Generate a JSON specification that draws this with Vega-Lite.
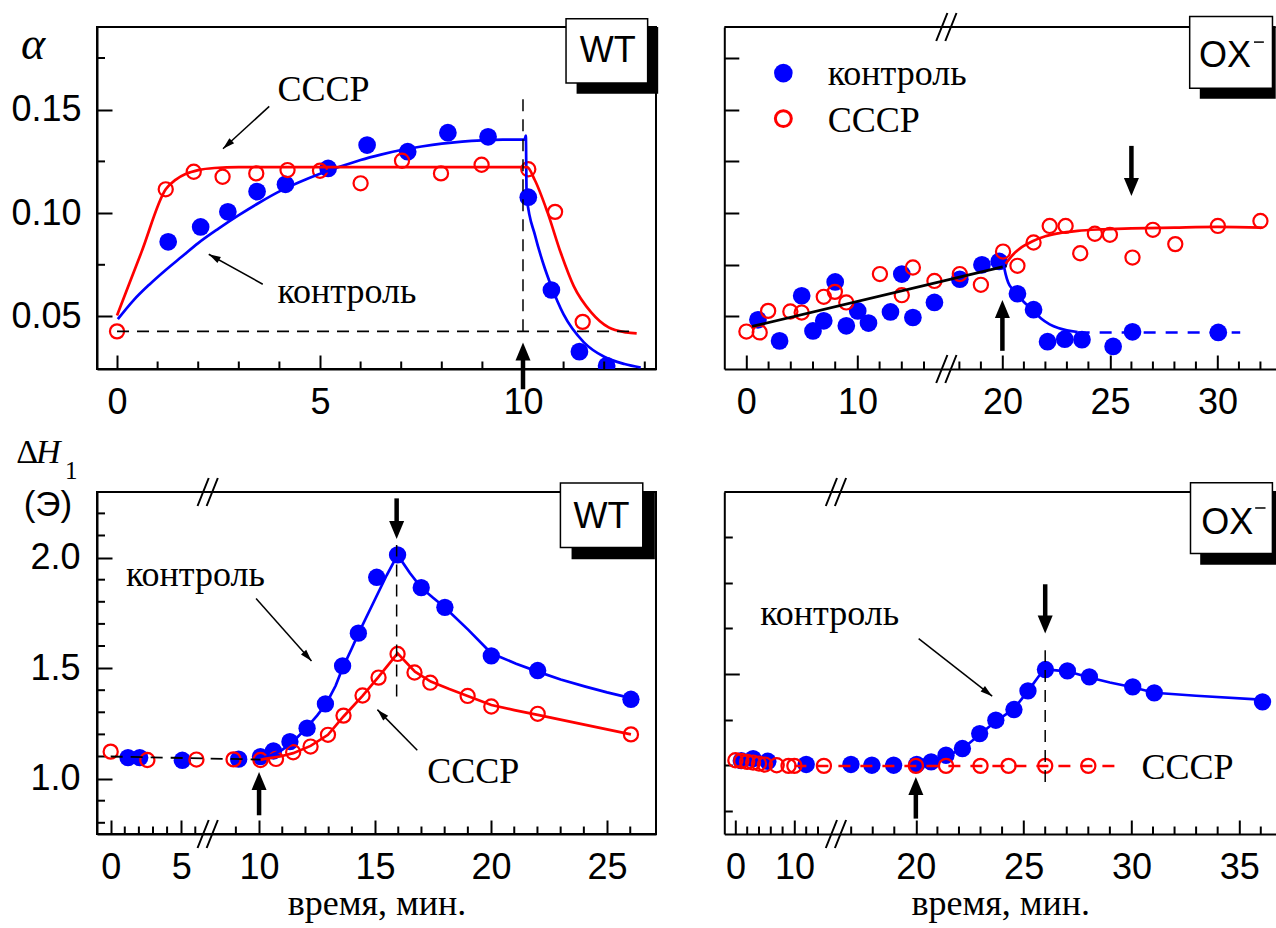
{
"$schema": "https://vega.github.io/schema/vega-lite/v6.json",
"background": "white",
"padding": {"left": 9, "top": 9, "right": 0, "bottom": 0},
"config": {
  "view": {"stroke": null},
  "axis": {"grid": false, "domainColor": "black", "domainWidth": 2, "tickColor": "black", "tickWidth": 2, "labelFont": "Liberation Sans", "labelFontSize": 36, "labelColor": "black", "labelFlush": false, "labelOverlap": false, "titleFont": "Liberation Serif", "titleFontSize": 36, "titleFontWeight": "normal", "titleColor": "black"}
},
"datasets": {
  "one": [{}],
  "tl_xminor": [{"t":1},{"t":2},{"t":3},{"t":4},{"t":6},{"t":7},{"t":8},{"t":9},{"t":11},{"t":12},{"t":13}],
  "tl_yminor": [{"v":0.075},{"v":0.125},{"v":0.175}],
  "tr_xminor": [{"t":2},{"t":4},{"t":6},{"t":8},{"t":12},{"t":14},{"t":16},{"t":18},{"t":19},{"t":21},{"t":22},{"t":23},{"t":24},{"t":26},{"t":27},{"t":28},{"t":29},{"t":31},{"t":32}],
  "bl_xminor": [{"t":1},{"t":2},{"t":3},{"t":4},{"t":6},{"t":9},{"t":11},{"t":12},{"t":13},{"t":14},{"t":16},{"t":17},{"t":18},{"t":19},{"t":21},{"t":22},{"t":23},{"t":24},{"t":26}],
  "bl_yminor": [{"v":0.8},{"v":0.9},{"v":1.1},{"v":1.2},{"v":1.3},{"v":1.4},{"v":1.6},{"v":1.7},{"v":1.8},{"v":1.9},{"v":2.1},{"v":2.2}],
  "br_xminor": [{"t":2},{"t":4},{"t":6},{"t":8},{"t":12},{"t":14},{"t":17},{"t":18},{"t":19},{"t":21},{"t":22},{"t":23},{"t":24},{"t":26},{"t":27},{"t":28},{"t":29},{"t":31},{"t":32},{"t":33},{"t":34},{"t":36}],
  "tl_ctrl": [{"t":1.26,"v":0.0861},{"t":2.06,"v":0.0933},{"t":2.73,"v":0.1006},{"t":3.45,"v":0.1104},{"t":4.15,"v":0.1139},{"t":5.2,"v":0.1216},{"t":6.16,"v":0.1329},{"t":7.16,"v":0.1297},{"t":8.15,"v":0.1389},{"t":9.14,"v":0.1369},{"t":10.13,"v":0.1077},{"t":10.7,"v":0.0628},{"t":11.39,"v":0.033},{"t":12.06,"v":0.0262}],
  "tl_cccp": [{"t":0,"v":0.0428},{"t":1.2,"v":0.1115},{"t":1.89,"v":0.12},{"t":2.6,"v":0.1176},{"t":3.43,"v":0.1192},{"t":4.2,"v":0.1208},{"t":5.0,"v":0.1205},{"t":6.0,"v":0.1144},{"t":7.02,"v":0.1253},{"t":7.98,"v":0.1192},{"t":8.98,"v":0.1234},{"t":10.13,"v":0.1212},{"t":10.79,"v":0.1006},{"t":11.47,"v":0.0474}],
  "tl_ctrl_fit": [{"t":0.02,"v":0.0487},{"t":0.4,"v":0.0577},{"t":0.8,"v":0.0655},{"t":1.2,"v":0.0725},{"t":1.6,"v":0.079},{"t":2.0,"v":0.0855},{"t":2.5,"v":0.0925},{"t":3.0,"v":0.099},{"t":3.5,"v":0.105},{"t":4.0,"v":0.1105},{"t":4.5,"v":0.115},{"t":5.0,"v":0.119},{"t":5.5,"v":0.1225},{"t":6.0,"v":0.1257},{"t":6.5,"v":0.1283},{"t":7.0,"v":0.1305},{"t":7.5,"v":0.1322},{"t":8.0,"v":0.1336},{"t":8.5,"v":0.1346},{"t":9.0,"v":0.1352},{"t":9.5,"v":0.1355},{"t":10.04,"v":0.1355},{"t":10.07,"v":0.1375},{"t":10.09,"v":0.108},{"t":10.3,"v":0.089},{"t":10.5,"v":0.0755},{"t":10.7,"v":0.0645},{"t":11.0,"v":0.051},{"t":11.5,"v":0.0375},{"t":12.0,"v":0.0305},{"t":12.5,"v":0.027},{"t":12.9,"v":0.0253}],
  "tl_cccp_fit": [{"t":0,"v":0.0505},{"t":0.6,"v":0.081},{"t":1.2,"v":0.1115},{"t":1.45,"v":0.1162},{"t":1.7,"v":0.119},{"t":2.0,"v":0.1208},{"t":2.4,"v":0.1218},{"t":3.0,"v":0.1222},{"t":10.1,"v":0.1222},{"t":10.29,"v":0.116},{"t":10.61,"v":0.1},{"t":10.93,"v":0.0808},{"t":11.25,"v":0.0647},{"t":11.68,"v":0.052},{"t":12.11,"v":0.0447},{"t":12.54,"v":0.0423},{"t":12.8,"v":0.0418}],
  "tr_ctrl": [{"t":1.04,"v":0.0484},{"t":2.99,"v":0.0382},{"t":4.98,"v":0.06},{"t":6.0,"v":0.043},{"t":6.97,"v":0.0479},{"t":8.0,"v":0.0667},{"t":9.0,"v":0.0455},{"t":10.03,"v":0.0527},{"t":11.0,"v":0.0468},{"t":12.98,"v":0.0522},{"t":14.0,"v":0.0705},{"t":15.0,"v":0.0495},{"t":16.94,"v":0.0568},{"t":18.02,"v":0.068},{"t":19.05,"v":0.075},{"t":19.85,"v":0.0766},{"t":20.7,"v":0.061},{"t":21.45,"v":0.0533},{"t":22.1,"v":0.0378},{"t":22.9,"v":0.039},{"t":23.7,"v":0.0388},{"t":25.15,"v":0.0355},{"t":26.05,"v":0.0426},{"t":30.04,"v":0.0423}],
  "tr_cccp": [{"t":0,"v":0.0427},{"t":1.2,"v":0.0423},{"t":1.96,"v":0.0527},{"t":3.96,"v":0.0524},{"t":4.98,"v":0.0519},{"t":6.97,"v":0.0595},{"t":7.97,"v":0.0619},{"t":9.0,"v":0.0568},{"t":12.03,"v":0.0705},{"t":14.0,"v":0.0603},{"t":15.0,"v":0.0737},{"t":16.94,"v":0.0672},{"t":18.02,"v":0.0705},{"t":19.0,"v":0.0653},{"t":20.03,"v":0.0814},{"t":20.7,"v":0.0745},{"t":21.45,"v":0.0858},{"t":22.2,"v":0.0938},{"t":22.94,"v":0.0938},{"t":23.62,"v":0.0806},{"t":24.3,"v":0.09},{"t":25.0,"v":0.0895},{"t":26.05,"v":0.0785},{"t":27.0,"v":0.0919},{"t":28.04,"v":0.085},{"t":30.02,"v":0.0938},{"t":32.0,"v":0.0962}],
  "tr_black": [{"t":0.51,"v":0.0452},{"t":20.2,"v":0.0745}],
  "tr_ctrl_fit": [{"t":20.05,"v":0.0755},{"t":20.15,"v":0.0705},{"t":20.27,"v":0.0664},{"t":20.5,"v":0.0628},{"t":20.7,"v":0.0605},{"t":21.0,"v":0.057},{"t":21.45,"v":0.0528},{"t":21.8,"v":0.049},{"t":22.2,"v":0.0462},{"t":22.6,"v":0.0444},{"t":23.0,"v":0.0433},{"t":23.5,"v":0.0425}],
  "tr_cccp_fit": [{"t":20.15,"v":0.0755},{"t":20.5,"v":0.08},{"t":20.9,"v":0.0835},{"t":21.4,"v":0.0864},{"t":22.0,"v":0.0888},{"t":22.6,"v":0.0902},{"t":23.5,"v":0.0914},{"t":24.5,"v":0.0921},{"t":26.0,"v":0.0926},{"t":28.0,"v":0.093},{"t":30.0,"v":0.0933},{"t":32.1,"v":0.093}],
  "bl_ctrl": [{"t":1.23,"v":1.095},{"t":2.06,"v":1.095},{"t":5.08,"v":1.083},{"t":9.12,"v":1.088},{"t":10.06,"v":1.0995},{"t":10.62,"v":1.125},{"t":11.33,"v":1.167},{"t":12.07,"v":1.228},{"t":12.86,"v":1.338},{"t":13.6,"v":1.51},{"t":14.28,"v":1.658},{"t":15.07,"v":1.911},{"t":15.97,"v":2.012},{"t":16.99,"v":1.864},{"t":18.01,"v":1.775},{"t":20.01,"v":1.555},{"t":22.01,"v":1.489},{"t":26.03,"v":1.359}],
  "bl_cccp": [{"t":0,"v":1.122},{"t":2.6,"v":1.084},{"t":6.08,"v":1.086},{"t":8.9,"v":1.087},{"t":10.06,"v":1.084},{"t":10.73,"v":1.089},{"t":11.47,"v":1.119},{"t":12.22,"v":1.145},{"t":12.97,"v":1.198},{"t":13.64,"v":1.285},{"t":14.46,"v":1.376},{"t":15.15,"v":1.457},{"t":15.97,"v":1.564},{"t":16.7,"v":1.48},{"t":17.38,"v":1.434},{"t":18.99,"v":1.374},{"t":20.01,"v":1.326},{"t":22.01,"v":1.293},{"t":26.03,"v":1.2}],
  "bl_ctrl_fit": [{"t":10.06,"v":1.09},{"t":10.5,"v":1.105},{"t":11.0,"v":1.13},{"t":11.5,"v":1.17},{"t":12.0,"v":1.225},{"t":12.5,"v":1.285},{"t":12.9,"v":1.34},{"t":13.3,"v":1.42},{"t":13.6,"v":1.5},{"t":14.0,"v":1.59},{"t":14.3,"v":1.66},{"t":14.9,"v":1.79},{"t":15.5,"v":1.92},{"t":15.97,"v":2.012},{"t":16.5,"v":1.93},{"t":16.99,"v":1.864},{"t":17.5,"v":1.818},{"t":18.0,"v":1.775},{"t":19.02,"v":1.673},{"t":20.01,"v":1.567},{"t":21.08,"v":1.52},{"t":22.01,"v":1.484},{"t":23.0,"v":1.448},{"t":24.07,"v":1.416},{"t":25.0,"v":1.39},{"t":26.03,"v":1.364}],
  "bl_cccp_fit": [{"t":10.06,"v":1.085},{"t":10.24,"v":1.089},{"t":10.9,"v":1.1},{"t":11.47,"v":1.115},{"t":12.22,"v":1.148},{"t":12.97,"v":1.198},{"t":13.64,"v":1.281},{"t":14.46,"v":1.374},{"t":15.15,"v":1.46},{"t":15.97,"v":1.567},{"t":16.72,"v":1.484},{"t":17.4,"v":1.439},{"t":18.2,"v":1.405},{"t":18.99,"v":1.374},{"t":20.01,"v":1.333},{"t":21.0,"v":1.31},{"t":22.01,"v":1.288},{"t":24.07,"v":1.243},{"t":26.03,"v":1.2}],
  "br_ctrl": [{"t":1,"v":1.121},{"t":3,"v":1.13},{"t":5.5,"v":1.118},{"t":12,"v":1.104},{"t":16.99,"v":1.104},{"t":17.96,"v":1.1007},{"t":18.97,"v":1.1007},{"t":20.04,"v":1.104},{"t":20.71,"v":1.1153},{"t":21.4,"v":1.1445},{"t":22.16,"v":1.1738},{"t":22.96,"v":1.2394},{"t":23.71,"v":1.2977},{"t":24.55,"v":1.3446},{"t":25.2,"v":1.426},{"t":26.01,"v":1.5197},{"t":27.03,"v":1.5137},{"t":28.05,"v":1.4873},{"t":30.06,"v":1.4435},{"t":31.06,"v":1.4173},{"t":36.08,"v":1.3778}],
  "br_cccp": [{"t":0,"v":1.1226},{"t":1,"v":1.1197},{"t":2,"v":1.1153},{"t":3,"v":1.1124},{"t":4,"v":1.108},{"t":5,"v":1.1036},{"t":7,"v":1.1007},{"t":9,"v":1.0978},{"t":10,"v":1.0978},{"t":15,"v":1.0978},{"t":20,"v":1.0978},{"t":21.4,"v":1.0978},{"t":23,"v":1.0978},{"t":24.3,"v":1.0978},{"t":26,"v":1.0978},{"t":28,"v":1.0978}],
  "br_ctrl_fit": [{"t":20.04,"v":1.101},{"t":20.71,"v":1.113},{"t":21.4,"v":1.14},{"t":22.16,"v":1.172},{"t":22.96,"v":1.235},{"t":23.71,"v":1.293},{"t":24.55,"v":1.348},{"t":25.2,"v":1.425},{"t":25.7,"v":1.49},{"t":26.01,"v":1.52},{"t":27.03,"v":1.512},{"t":28.05,"v":1.485},{"t":29.0,"v":1.463},{"t":30.06,"v":1.442},{"t":31.06,"v":1.418},{"t":33.0,"v":1.405},{"t":36.0,"v":1.388}]
},
"columns": 2,
"spacing": {"row": 123, "column": 68.3},
"bounds": "flush",
"concat": [
{
 "width": 559, "height": 342,
 "view": {"stroke": "black", "strokeWidth": 2},
 "layer": [
  {"data": {"name": "tl_ctrl"}, "mark": {"type": "point", "shape": "circle", "filled": true, "color": "#0000ff", "size": 314, "opacity": 1, "clip": true},
   "encoding": {
    "x": {"field": "t", "type": "quantitative", "title": null, "scale": {"domain": [-0.493, 13.276], "nice": false, "zero": false},
          "axis": {"title": null, "labelOverlap": false, "labelFlush": false, "values": [0,5,10], "format": "d", "tickSize": -14, "labelPadding": 30.4}},
    "y": {"field": "v", "type": "quantitative", "title": null, "scale": {"domain": [0.0246, 0.19], "nice": false, "zero": false},
          "axis": {"title": null, "labelOverlap": false, "values": [0.05,0.1,0.15], "format": ".2f", "tickSize": -15, "labelPadding": 31}}
   }},
  {"data": {"name": "tl_xminor"}, "mark": {"type": "rule", "color": "black", "strokeWidth": 2}, "encoding": {"x": {"field": "t", "type": "quantitative", "title": null}, "y": {"datum": 0.0246, "title": null}, "y2": {"datum": 0.02823}}},
  {"data": {"name": "tl_yminor"}, "mark": {"type": "rule", "color": "black", "strokeWidth": 2}, "encoding": {"y": {"field": "v", "type": "quantitative", "title": null}, "x": {"datum": -0.493, "title": null}, "x2": {"datum": -0.296}}},
  {"data": {"name": "tl_cccp"}, "mark": {"type": "point", "shape": "circle", "filled": false, "color": "#ff0000", "strokeWidth": 2.2, "size": 200, "opacity": 1}, "encoding": {"x": {"field": "t", "type": "quantitative", "title": null}, "y": {"field": "v", "type": "quantitative", "title": null}}},
  {"data": {"name": "tl_ctrl_fit"}, "mark": {"type": "line", "color": "#0000ff", "strokeWidth": 2.7, "interpolate": "monotone"}, "encoding": {"x": {"field": "t", "type": "quantitative", "title": null}, "y": {"field": "v", "type": "quantitative", "title": null}}},
  {"data": {"name": "tl_cccp_fit"}, "mark": {"type": "line", "color": "#ff0000", "strokeWidth": 2.7, "interpolate": "monotone"}, "encoding": {"x": {"field": "t", "type": "quantitative", "title": null}, "y": {"field": "v", "type": "quantitative", "title": null}}},
  {"data": {"name": "one"}, "mark": {"type": "rule", "color": "black", "strokeWidth": 1.8, "strokeDash": [12, 8]}, "encoding": {"x": {"datum": 0, "title": null}, "x2": {"datum": 12.8}, "y": {"datum": 0.0428, "title": null}}},
  {"data": {"name": "one"}, "mark": {"type": "rule", "color": "black", "strokeWidth": 1.5, "strokeDash": [12, 8]}, "encoding": {"x": {"datum": 10, "title": null}, "y": {"datum": 0.0428, "title": null}, "y2": {"datum": 0.156}}},
  {"data": {"name": "one"}, "mark": {"type": "rule", "color": "black", "strokeWidth": 4.5}, "encoding": {"x": {"datum": 10, "title": null}, "y": {"datum": 0.0148, "title": null}, "y2": {"datum": 0.034}}},
  {"data": {"name": "one"}, "mark": {"type": "point", "shape": "M0,0L1,2.4L-1,2.4Z", "filled": true, "color": "black", "size": 225, "opacity": 1, "strokeWidth": 0}, "encoding": {"x": {"datum": 10, "title": null}, "y": {"datum": 0.0374, "title": null}}},
  {"data": {"name": "one"}, "mark": {"type": "text", "font": "Liberation Serif", "fontSize": 36, "align": "left", "baseline": "alphabetic", "color": "black"}, "encoding": {"x": {"datum": 3.95, "title": null}, "y": {"datum": 0.154, "title": null}, "text": {"value": "CCCP"}}},
  {"data": {"name": "one"}, "mark": {"type": "text", "font": "Liberation Serif", "fontSize": 36, "align": "left", "baseline": "alphabetic", "color": "black"}, "encoding": {"x": {"datum": 3.95, "title": null}, "y": {"datum": 0.0565, "title": null}, "text": {"value": "контроль"}}},
  {"data": {"name": "one"}, "mark": {"type": "rule", "color": "black", "strokeWidth": 1.5}, "encoding": {"x": {"datum": 3.75, "title": null}, "y": {"datum": 0.1516, "title": null}, "x2": {"datum": 2.61}, "y2": {"datum": 0.1311}}},
  {"data": {"name": "one"}, "mark": {"type": "point", "shape": "M0,0L1,3.4L-1,3.4Z", "filled": true, "color": "black", "size": 49, "opacity": 1, "strokeWidth": 0, "angle": 227.6}, "encoding": {"x": {"datum": 2.61, "title": null}, "y": {"datum": 0.1311, "title": null}}},
  {"data": {"name": "one"}, "mark": {"type": "rule", "color": "black", "strokeWidth": 1.5}, "encoding": {"x": {"datum": 3.59, "title": null}, "y": {"datum": 0.0656, "title": null}, "x2": {"datum": 2.26}, "y2": {"datum": 0.0801}}},
  {"data": {"name": "one"}, "mark": {"type": "point", "shape": "M0,0L1,3.4L-1,3.4Z", "filled": true, "color": "black", "size": 49, "opacity": 1, "strokeWidth": 0, "angle": 299.2}, "encoding": {"x": {"datum": 2.26, "title": null}, "y": {"datum": 0.0801, "title": null}}},
  {"data": {"name": "one"}, "mark": {"type": "text", "font": "Liberation Serif", "fontStyle": "italic", "fontSize": 46, "align": "center", "baseline": "alphabetic", "color": "black"}, "encoding": {"x": {"datum": -2.07, "title": null}, "y": {"datum": 0.1747, "title": null}, "text": {"value": "α"}}},
  {"data": {"name": "one"}, "mark": {"type": "rect", "fill": "black"}, "encoding": {"x": {"datum": 11.32, "title": null}, "x2": {"datum": 13.33}, "y": {"datum": 0.1577, "title": null}, "y2": {"datum": 0.19}}},
  {"data": {"name": "one"}, "mark": {"type": "rect", "fill": "white", "stroke": "black", "strokeWidth": 1.5}, "encoding": {"x": {"datum": 11.06, "title": null}, "x2": {"datum": 13.07}, "y": {"datum": 0.1629, "title": null}, "y2": {"datum": 0.194}}},
  {"data": {"name": "one"}, "mark": {"type": "text", "font": "Liberation Sans", "fontSize": 36, "align": "center", "baseline": "alphabetic", "color": "black"}, "encoding": {"x": {"datum": 12.09, "title": null}, "y": {"datum": 0.173, "title": null}, "text": {"value": "WT"}}}
 ]
},
{
 "width": 551.4, "height": 342,
 "layer": [
  {"data": {"name": "tr_ctrl"}, "mark": {"type": "point", "shape": "circle", "filled": true, "color": "#0000ff", "size": 314, "opacity": 1},
   "encoding": {
    "x": {"field": "t", "type": "quantitative", "title": null, "scale": {"domain": [-1.99, 17.0, 17.41, 32.71], "range": [0, 210.8, 222.4, 551.4], "nice": false, "zero": false},
          "axis": {"title": null, "labelOverlap": false, "labelFlush": false, "values": [0,10,20,25,30], "format": "d", "tickSize": -14, "labelPadding": 30.4}},
    "y": {"field": "v", "type": "quantitative", "title": null, "scale": {"domain": [0.0246, 0.19], "nice": false, "zero": false},
          "axis": {"title": null, "values": [0.05,0.075,0.1,0.125,0.15,0.175], "labels": false, "tickSize": -14.5}}
   }},
  {"data": {"name": "tr_xminor"}, "mark": {"type": "rule", "color": "black", "strokeWidth": 2}, "encoding": {"x": {"field": "t", "type": "quantitative", "title": null}, "y": {"datum": 0.0246, "title": null}, "y2": {"datum": 0.02823}}},
  {"data": {"name": "tr_cccp"}, "mark": {"type": "point", "shape": "circle", "filled": false, "color": "#ff0000", "strokeWidth": 2.2, "size": 200, "opacity": 1}, "encoding": {"x": {"field": "t", "type": "quantitative", "title": null}, "y": {"field": "v", "type": "quantitative", "title": null}}},
  {"data": {"name": "tr_black"}, "mark": {"type": "line", "color": "black", "strokeWidth": 2.7}, "encoding": {"x": {"field": "t", "type": "quantitative", "title": null}, "y": {"field": "v", "type": "quantitative", "title": null}}},
  {"data": {"name": "tr_ctrl_fit"}, "mark": {"type": "line", "color": "#0000ff", "strokeWidth": 2.7, "interpolate": "monotone"}, "encoding": {"x": {"field": "t", "type": "quantitative", "title": null}, "y": {"field": "v", "type": "quantitative", "title": null}}},
  {"data": {"name": "tr_cccp_fit"}, "mark": {"type": "line", "color": "#ff0000", "strokeWidth": 2.7, "interpolate": "monotone"}, "encoding": {"x": {"field": "t", "type": "quantitative", "title": null}, "y": {"field": "v", "type": "quantitative", "title": null}}},
  {"data": {"name": "one"}, "mark": {"type": "rule", "color": "#0000ff", "strokeWidth": 2.5, "strokeDash": [12, 10]}, "encoding": {"x": {"datum": 23.5, "title": null}, "x2": {"datum": 31.06}, "y": {"datum": 0.0423, "title": null}}},
  {"data": {"name": "one"}, "mark": {"type": "rule", "color": "black", "strokeWidth": 2}, "encoding": {"x": {"datum": -1.99, "title": null}, "x2": {"datum": 32.71}, "y": {"datum": 0.19, "title": null}}},
  {"data": {"name": "one"}, "mark": {"type": "point", "shape": "M-0.75,1L0.05,-1M-0.1,1L0.7,-1", "filled": false, "color": "black", "size": 784, "opacity": 1, "strokeWidth": 2}, "encoding": {"x": {"datum": 17.41, "title": null}, "y": {"datum": 0.19, "title": null}}},
  {"data": {"name": "one"}, "mark": {"type": "point", "shape": "M-0.75,1L0.05,-1M-0.1,1L0.7,-1", "filled": false, "color": "black", "size": 784, "opacity": 1, "strokeWidth": 2}, "encoding": {"x": {"datum": 17.41, "title": null}, "y": {"datum": 0.0246, "title": null}}},
  {"data": {"name": "one"}, "mark": {"type": "rule", "color": "black", "strokeWidth": 4.5}, "encoding": {"x": {"datum": 20, "title": null}, "y": {"datum": 0.0334, "title": null}, "y2": {"datum": 0.0535}}},
  {"data": {"name": "one"}, "mark": {"type": "point", "shape": "M0,0L1,2.4L-1,2.4Z", "filled": true, "color": "black", "size": 225, "opacity": 1, "strokeWidth": 0}, "encoding": {"x": {"datum": 20, "title": null}, "y": {"datum": 0.058, "title": null}}},
  {"data": {"name": "one"}, "mark": {"type": "rule", "color": "black", "strokeWidth": 4.5}, "encoding": {"x": {"datum": 26, "title": null}, "y": {"datum": 0.1325, "title": null}, "y2": {"datum": 0.112}}},
  {"data": {"name": "one"}, "mark": {"type": "point", "shape": "M0,0L1,-2.4L-1,-2.4Z", "filled": true, "color": "black", "size": 225, "opacity": 1, "strokeWidth": 0}, "encoding": {"x": {"datum": 26, "title": null}, "y": {"datum": 0.1083, "title": null}}},
  {"data": {"name": "one"}, "mark": {"type": "point", "shape": "circle", "filled": true, "color": "#0000ff", "size": 346, "opacity": 1}, "encoding": {"x": {"datum": 3.33, "title": null}, "y": {"datum": 0.1677, "title": null}}},
  {"data": {"name": "one"}, "mark": {"type": "point", "shape": "circle", "filled": false, "color": "#ff0000", "size": 254, "strokeWidth": 3, "opacity": 1}, "encoding": {"x": {"datum": 3.33, "title": null}, "y": {"datum": 0.1457, "title": null}}},
  {"data": {"name": "one"}, "mark": {"type": "text", "font": "Liberation Serif", "fontSize": 36, "align": "left", "baseline": "alphabetic", "color": "black"}, "encoding": {"x": {"datum": 7.32, "title": null}, "y": {"datum": 0.1618, "title": null}, "text": {"value": "контроль"}}},
  {"data": {"name": "one"}, "mark": {"type": "text", "font": "Liberation Serif", "fontSize": 36, "align": "left", "baseline": "alphabetic", "color": "black"}, "encoding": {"x": {"datum": 7.32, "title": null}, "y": {"datum": 0.1391, "title": null}, "text": {"value": "CCCP"}}},
  {"data": {"name": "one"}, "mark": {"type": "rect", "fill": "black"}, "encoding": {"x": {"datum": 29.18, "title": null}, "x2": {"datum": 32.71}, "y": {"datum": 0.1553, "title": null}, "y2": {"datum": 0.19}}},
  {"data": {"name": "one"}, "mark": {"type": "rect", "fill": "white", "stroke": "black", "strokeWidth": 1.5}, "encoding": {"x": {"datum": 28.71, "title": null}, "x2": {"datum": 32.56}, "y": {"datum": 0.1604, "title": null}, "y2": {"datum": 0.1951}}},
  {"data": {"name": "one"}, "mark": {"type": "text", "font": "Liberation Sans", "fontSize": 36, "align": "center", "baseline": "alphabetic", "color": "black"}, "encoding": {"x": {"datum": 30.35, "title": null}, "y": {"datum": 0.1706, "title": null}, "text": {"value": "OX"}}},
  {"data": {"name": "one"}, "mark": {"type": "rule", "color": "black", "strokeWidth": 1.5}, "encoding": {"x": {"datum": 31.7, "title": null}, "x2": {"datum": 32.16}, "y": {"datum": 0.1827, "title": null}}}
 ]
},
{
 "width": 559, "height": 342,
 "view": {"stroke": "black", "strokeWidth": 2},
 "layer": [
  {"data": {"name": "bl_ctrl"}, "mark": {"type": "point", "shape": "circle", "filled": true, "color": "#0000ff", "size": 300, "opacity": 1},
   "encoding": {
    "x": {"field": "t", "type": "quantitative", "title": "время, мин.", "scale": {"domain": [-0.97, 6.88, 7.79, 27.11], "range": [0, 110.7, 110.8, 559], "nice": false, "zero": false},
          "axis": {"title": "время, мин.", "titlePadding": 1, "labelOverlap": false, "labelFlush": false, "values": [0,5,10,15,20,25], "format": "d", "tickSize": -14, "labelPadding": 30.4}},
    "y": {"field": "v", "type": "quantitative", "title": null, "scale": {"domain": [0.7493, 2.2968], "nice": false, "zero": false},
          "axis": {"title": null, "labelOverlap": false, "values": [1,1.5,2], "format": ".1f", "tickSize": -15, "labelPadding": 32}}
   }},
  {"data": {"name": "bl_xminor"}, "mark": {"type": "rule", "color": "black", "strokeWidth": 2}, "encoding": {"x": {"field": "t", "type": "quantitative", "title": "время, мин."}, "y": {"datum": 0.7493, "title": null}, "y2": {"datum": 0.7832}}},
  {"data": {"name": "bl_yminor"}, "mark": {"type": "rule", "color": "black", "strokeWidth": 2}, "encoding": {"y": {"field": "v", "type": "quantitative", "title": null}, "x": {"datum": -0.97, "title": "время, мин."}, "x2": {"datum": -0.403}}},
  {"data": {"name": "bl_cccp"}, "mark": {"type": "point", "shape": "circle", "filled": false, "color": "#ff0000", "strokeWidth": 2.2, "size": 200, "opacity": 1}, "encoding": {"x": {"field": "t", "type": "quantitative", "title": "время, мин."}, "y": {"field": "v", "type": "quantitative", "title": null}}},
  {"data": {"name": "bl_ctrl_fit"}, "mark": {"type": "line", "color": "#0000ff", "strokeWidth": 2.7}, "encoding": {"x": {"field": "t", "type": "quantitative", "title": "время, мин."}, "y": {"field": "v", "type": "quantitative", "title": null}}},
  {"data": {"name": "bl_cccp_fit"}, "mark": {"type": "line", "color": "#ff0000", "strokeWidth": 2.7}, "encoding": {"x": {"field": "t", "type": "quantitative", "title": "время, мин."}, "y": {"field": "v", "type": "quantitative", "title": null}}},
  {"data": {"name": "one"}, "mark": {"type": "rule", "color": "black", "strokeWidth": 1.8, "strokeDash": [12, 8]}, "encoding": {"x": {"datum": 0, "title": "время, мин."}, "y": {"datum": 1.1, "title": null}, "x2": {"datum": 10.06}, "y2": {"datum": 1.086}}},
  {"data": {"name": "one"}, "mark": {"type": "rule", "color": "black", "strokeWidth": 1.5, "strokeDash": [12, 8]}, "encoding": {"x": {"datum": 15.93, "title": "время, мин."}, "y": {"datum": 1.371, "title": null}, "y2": {"datum": 2.057}}},
  {"data": {"name": "one"}, "mark": {"type": "rule", "color": "black", "strokeWidth": 4.5}, "encoding": {"x": {"datum": 15.93, "title": "время, мин."}, "y": {"datum": 2.268, "title": null}, "y2": {"datum": 2.133}}},
  {"data": {"name": "one"}, "mark": {"type": "point", "shape": "M0,0L1,-2.4L-1,-2.4Z", "filled": true, "color": "black", "size": 225, "opacity": 1, "strokeWidth": 0}, "encoding": {"x": {"datum": 15.93, "title": "время, мин."}, "y": {"datum": 2.084, "title": null}}},
  {"data": {"name": "one"}, "mark": {"type": "rule", "color": "black", "strokeWidth": 4.5}, "encoding": {"x": {"datum": 10, "title": "время, мин."}, "y": {"datum": 0.834, "title": null}, "y2": {"datum": 0.983}}},
  {"data": {"name": "one"}, "mark": {"type": "point", "shape": "M0,0L1,2.4L-1,2.4Z", "filled": true, "color": "black", "size": 225, "opacity": 1, "strokeWidth": 0}, "encoding": {"x": {"datum": 10, "title": "время, мин."}, "y": {"datum": 1.03, "title": null}}},
  {"data": {"name": "one"}, "mark": {"type": "text", "font": "Liberation Serif", "fontSize": 36, "align": "left", "baseline": "alphabetic", "color": "black"}, "encoding": {"x": {"datum": 1.08, "title": "время, мин."}, "y": {"datum": 1.873, "title": null}, "text": {"value": "контроль"}}},
  {"data": {"name": "one"}, "mark": {"type": "text", "font": "Liberation Serif", "fontSize": 36, "align": "left", "baseline": "alphabetic", "color": "black"}, "encoding": {"x": {"datum": 17.25, "title": "время, мин."}, "y": {"datum": 0.9805, "title": null}, "text": {"value": "CCCP"}}},
  {"data": {"name": "one"}, "mark": {"type": "rule", "color": "black", "strokeWidth": 1.5}, "encoding": {"x": {"datum": 9.87, "title": "время, мин."}, "y": {"datum": 1.8145, "title": null}, "x2": {"datum": 12.26}, "y2": {"datum": 1.532}}},
  {"data": {"name": "one"}, "mark": {"type": "point", "shape": "M0,0L1,3.4L-1,3.4Z", "filled": true, "color": "black", "size": 49, "opacity": 1, "strokeWidth": 0, "angle": 138.4}, "encoding": {"x": {"datum": 12.26, "title": "время, мин."}, "y": {"datum": 1.532, "title": null}}},
  {"data": {"name": "one"}, "mark": {"type": "rule", "color": "black", "strokeWidth": 1.5}, "encoding": {"x": {"datum": 16.82, "title": "время, мин."}, "y": {"datum": 1.128, "title": null}, "x2": {"datum": 15.1}, "y2": {"datum": 1.312}}},
  {"data": {"name": "one"}, "mark": {"type": "point", "shape": "M0,0L1,3.4L-1,3.4Z", "filled": true, "color": "black", "size": 49, "opacity": 1, "strokeWidth": 0, "angle": 315.6}, "encoding": {"x": {"datum": 15.1, "title": "время, мин."}, "y": {"datum": 1.312, "title": null}}},
  {"data": {"name": "one"}, "mark": {"type": "point", "shape": "M-0.75,1L0.05,-1M-0.1,1L0.7,-1", "filled": false, "color": "black", "size": 784, "opacity": 1, "strokeWidth": 2}, "encoding": {"x": {"datum": 7.8, "title": "время, мин."}, "y": {"datum": 2.2968, "title": null}}},
  {"data": {"name": "one"}, "mark": {"type": "point", "shape": "M-0.75,1L0.05,-1M-0.1,1L0.7,-1", "filled": false, "color": "black", "size": 784, "opacity": 1, "strokeWidth": 2}, "encoding": {"x": {"datum": 7.8, "title": "время, мин."}, "y": {"datum": 0.7493, "title": null}}},
  {"data": {"name": "one"}, "mark": {"type": "text", "font": "Liberation Serif", "fontSize": 34, "align": "left", "baseline": "alphabetic", "color": "black"}, "encoding": {"x": {"datum": -6.69, "title": "время, мин."}, "y": {"datum": 2.43, "title": null}, "text": {"value": "Δ"}}},
  {"data": {"name": "one"}, "mark": {"type": "text", "font": "Liberation Serif", "fontStyle": "italic", "fontSize": 34, "align": "left", "baseline": "alphabetic", "color": "black"}, "encoding": {"x": {"datum": -5.3, "title": "время, мин."}, "y": {"datum": 2.43, "title": null}, "text": {"value": "H"}}},
  {"data": {"name": "one"}, "mark": {"type": "text", "font": "Liberation Serif", "fontSize": 25, "align": "center", "baseline": "alphabetic", "color": "black"}, "encoding": {"x": {"datum": -2.8, "title": "время, мин."}, "y": {"datum": 2.357, "title": null}, "text": {"value": "1"}}},
  {"data": {"name": "one"}, "mark": {"type": "text", "font": "Liberation Sans", "fontSize": 35, "align": "center", "baseline": "alphabetic", "color": "black"}, "encoding": {"x": {"datum": -4.45, "title": "время, мин."}, "y": {"datum": 2.186, "title": null}, "text": {"value": "(Э)"}}},
  {"data": {"name": "one"}, "mark": {"type": "rect", "fill": "black"}, "encoding": {"x": {"datum": 23.47, "title": "время, мин."}, "x2": {"datum": 27.06}, "y": {"datum": 1.9923, "title": null}, "y2": {"datum": 2.2968}}},
  {"data": {"name": "one"}, "mark": {"type": "rect", "fill": "white", "stroke": "black", "strokeWidth": 1.5}, "encoding": {"x": {"datum": 22.99, "title": "время, мин."}, "x2": {"datum": 26.54}, "y": {"datum": 2.0452, "title": null}, "y2": {"datum": 2.3376}}},
  {"data": {"name": "one"}, "mark": {"type": "text", "font": "Liberation Sans", "fontSize": 36, "align": "center", "baseline": "alphabetic", "color": "black"}, "encoding": {"x": {"datum": 24.76, "title": "время, мин."}, "y": {"datum": 2.1357, "title": null}, "text": {"value": "WT"}}}
 ]
},
{
 "width": 552, "height": 342,
 "layer": [
  {"data": {"name": "br_ctrl"}, "mark": {"type": "point", "shape": "circle", "filled": true, "color": "#0000ff", "size": 300, "opacity": 1},
   "encoding": {
    "x": {"field": "t", "type": "quantitative", "title": "время, мин.", "scale": {"domain": [-1.88, 15, 16.31, 36.72], "range": [0, 99.6, 112, 552], "nice": false, "zero": false},
          "axis": {"title": "время, мин.", "titlePadding": 1, "labelOverlap": false, "labelFlush": false, "values": [0,10,20,25,30,35], "format": "d", "tickSize": -14, "labelPadding": 30.4}},
    "y": {"field": "v", "type": "quantitative", "title": null, "scale": {"domain": [0.7996, 2.297], "nice": false, "zero": false},
          "axis": {"title": null, "values": [0.9,1,1.1,1.2,1.3,1.4,1.5,1.6,1.7,1.8,1.9,2,2.1,2.2], "labels": false, "tickSize": {"condition": {"test": "abs(datum.value*2 - round(datum.value*2)) < 0.01", "value": -15}, "value": -8}}}
   }},
  {"data": {"name": "br_xminor"}, "mark": {"type": "rule", "color": "black", "strokeWidth": 2}, "encoding": {"x": {"field": "t", "type": "quantitative", "title": "время, мин."}, "y": {"datum": 0.7996, "title": null}, "y2": {"datum": 0.8324}}},
  {"data": {"name": "br_ctrl_fit"}, "mark": {"type": "line", "color": "#0000ff", "strokeWidth": 2.7}, "encoding": {"x": {"field": "t", "type": "quantitative", "title": "время, мин."}, "y": {"field": "v", "type": "quantitative", "title": null}}},
  {"data": {"name": "one"}, "mark": {"type": "rule", "color": "#ff0000", "strokeWidth": 2.5, "strokeDash": [12, 10]}, "encoding": {"x": {"datum": 10, "title": "время, мин."}, "x2": {"datum": 29.24}, "y": {"datum": 1.0978, "title": null}}},
  {"data": {"name": "br_cccp"}, "mark": {"type": "point", "shape": "circle", "filled": false, "color": "#ff0000", "strokeWidth": 2.2, "size": 200, "opacity": 1}, "encoding": {"x": {"field": "t", "type": "quantitative", "title": "время, мин."}, "y": {"field": "v", "type": "quantitative", "title": null}}},
  {"data": {"name": "one"}, "mark": {"type": "rule", "color": "black", "strokeWidth": 1.5, "strokeDash": [12, 8]}, "encoding": {"x": {"datum": 26, "title": "время, мин."}, "y": {"datum": 1.0276, "title": null}, "y2": {"datum": 1.604}}},
  {"data": {"name": "one"}, "mark": {"type": "rule", "color": "black", "strokeWidth": 4.5}, "encoding": {"x": {"datum": 26, "title": "время, мин."}, "y": {"datum": 1.893, "title": null}, "y2": {"datum": 1.714}}},
  {"data": {"name": "one"}, "mark": {"type": "point", "shape": "M0,0L1,-2.4L-1,-2.4Z", "filled": true, "color": "black", "size": 225, "opacity": 1, "strokeWidth": 0}, "encoding": {"x": {"datum": 26, "title": "время, мин."}, "y": {"datum": 1.677, "title": null}}},
  {"data": {"name": "one"}, "mark": {"type": "rule", "color": "black", "strokeWidth": 4.5}, "encoding": {"x": {"datum": 20, "title": "время, мин."}, "y": {"datum": 0.867, "title": null}, "y2": {"datum": 1.0088}}},
  {"data": {"name": "one"}, "mark": {"type": "point", "shape": "M0,0L1,2.4L-1,2.4Z", "filled": true, "color": "black", "size": 225, "opacity": 1, "strokeWidth": 0}, "encoding": {"x": {"datum": 20, "title": "время, мин."}, "y": {"datum": 1.049, "title": null}}},
  {"data": {"name": "one"}, "mark": {"type": "text", "font": "Liberation Serif", "fontSize": 36, "align": "left", "baseline": "alphabetic", "color": "black"}, "encoding": {"x": {"datum": 4.2, "title": "время, мин."}, "y": {"datum": 1.7145, "title": null}, "text": {"value": "контроль"}}},
  {"data": {"name": "one"}, "mark": {"type": "text", "font": "Liberation Serif", "fontSize": 36, "align": "left", "baseline": "alphabetic", "color": "black"}, "encoding": {"x": {"datum": 30.47, "title": "время, мин."}, "y": {"datum": 1.041, "title": null}, "text": {"value": "CCCP"}}},
  {"data": {"name": "one"}, "mark": {"type": "rule", "color": "black", "strokeWidth": 1.5}, "encoding": {"x": {"datum": 20.13, "title": "время, мин."}, "y": {"datum": 1.655, "title": null}, "x2": {"datum": 23.54}, "y2": {"datum": 1.403}}},
  {"data": {"name": "one"}, "mark": {"type": "point", "shape": "M0,0L1,3.4L-1,3.4Z", "filled": true, "color": "black", "size": 49, "opacity": 1, "strokeWidth": 0, "angle": 128.1}, "encoding": {"x": {"datum": 23.54, "title": "время, мин."}, "y": {"datum": 1.403, "title": null}}},
  {"data": {"name": "one"}, "mark": {"type": "rule", "color": "black", "strokeWidth": 2}, "encoding": {"x": {"datum": -1.88, "title": "время, мин."}, "x2": {"datum": 36.72}, "y": {"datum": 2.297, "title": null}}},
  {"data": {"name": "one"}, "mark": {"type": "point", "shape": "M-0.75,1L0.05,-1M-0.1,1L0.7,-1", "filled": false, "color": "black", "size": 784, "opacity": 1, "strokeWidth": 2}, "encoding": {"x": {"datum": 16.31, "title": "время, мин."}, "y": {"datum": 2.297, "title": null}}},
  {"data": {"name": "one"}, "mark": {"type": "point", "shape": "M-0.75,1L0.05,-1M-0.1,1L0.7,-1", "filled": false, "color": "black", "size": 784, "opacity": 1, "strokeWidth": 2}, "encoding": {"x": {"datum": 16.31, "title": "время, мин."}, "y": {"datum": 0.7996, "title": null}}},
  {"data": {"name": "one"}, "mark": {"type": "rect", "fill": "black"}, "encoding": {"x": {"datum": 33.19, "title": "время, мин."}, "x2": {"datum": 36.72}, "y": {"datum": 1.979, "title": null}, "y2": {"datum": 2.297}}},
  {"data": {"name": "one"}, "mark": {"type": "rect", "fill": "white", "stroke": "black", "strokeWidth": 1.5}, "encoding": {"x": {"datum": 32.74, "title": "время, мин."}, "x2": {"datum": 36.54}, "y": {"datum": 2.0276, "title": null}, "y2": {"datum": 2.338}}},
  {"data": {"name": "one"}, "mark": {"type": "text", "font": "Liberation Sans", "fontSize": 36, "align": "center", "baseline": "alphabetic", "color": "black"}, "encoding": {"x": {"datum": 34.45, "title": "время, мин."}, "y": {"datum": 2.115, "title": null}, "text": {"value": "OX"}}},
  {"data": {"name": "one"}, "mark": {"type": "rule", "color": "black", "strokeWidth": 1.5}, "encoding": {"x": {"datum": 35.74, "title": "время, мин."}, "x2": {"datum": 36.22}, "y": {"datum": 2.227, "title": null}}}
 ]
}
]
}
